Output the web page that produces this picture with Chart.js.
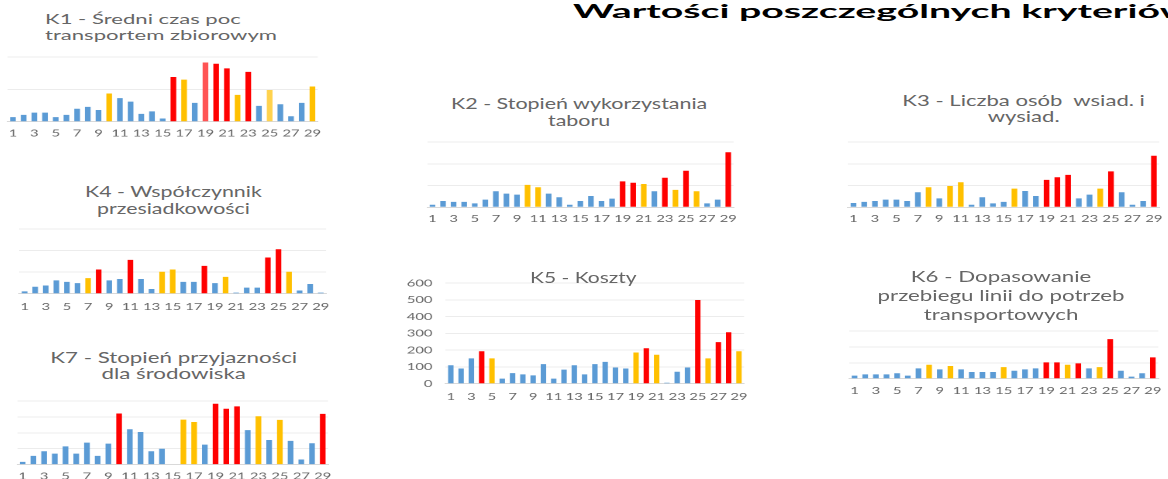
<!DOCTYPE html>
<html><head><meta charset="utf-8">
<script src="https://cdn.jsdelivr.net/npm/chart.js@4.4.1/dist/chart.umd.min.js"></script>
<style>
html,body{margin:0;padding:0;background:#fff;width:1168px;height:479px;overflow:hidden;position:relative;}
.wrap{position:absolute;transform-origin:0 0;}
.ttl{position:absolute;white-space:pre;transform-origin:0 0;}
canvas{display:block;}
</style></head><body>
<script>
// ---------- DATA ----------
const categories = ['1','2','3','4','5','6','7','8','9','10','11','12','13','14','15','16','17','18','19','20','21','22','23','24','25','26','27','28','29'];
const k5Ticks = ['0','100','200','300','400','500','600'];

const k1Values = [0.14,0.21,0.28,0.28,0.14,0.21,0.40,0.46,0.36,0.87,0.73,0.62,0.24,0.32,0.10,1.38,1.30,0.58,1.83,1.79,1.65,0.83,1.54,0.49,0.98,0.54,0.17,0.58,1.09];
const k1Class  = [0,0,0,0,0,0,0,0,0,1,0,0,0,0,0,2,1,0,3,2,2,1,2,0,4,0,0,0,1];

const k2Values = [0.12,0.29,0.25,0.25,0.18,0.35,0.74,0.63,0.58,1.03,0.92,0.63,0.46,0.12,0.29,0.52,0.29,0.40,1.19,1.13,1.07,0.74,1.36,0.80,1.68,0.74,0.18,0.35,2.53];
const k2Class  = [0,0,0,0,0,0,0,0,0,1,1,0,0,0,0,0,0,0,2,2,1,0,2,1,2,1,0,0,2];

const k3Values = [0.20,0.25,0.29,0.35,0.35,0.29,0.69,0.92,0.41,0.98,1.15,0.12,0.46,0.18,0.25,0.86,0.75,0.52,1.26,1.38,1.49,0.41,0.58,0.86,1.65,0.69,0.12,0.29,2.37];
const k3Class  = [0,0,0,0,0,0,0,1,0,1,1,0,0,0,0,1,0,0,2,2,2,0,0,1,2,0,0,0,2];

const k4Values = [0.11,0.32,0.38,0.62,0.55,0.49,0.72,1.12,0.62,0.68,1.57,0.68,0.22,1.02,1.12,0.55,0.55,1.29,0.49,0.78,0.05,0.28,0.28,1.68,2.06,1.02,0.15,0.45,0.05];
const k4Class  = [0,0,0,0,0,0,1,2,0,0,2,0,0,1,1,0,0,2,0,1,0,0,0,2,2,1,0,0,0];

const k5Values = [110,91,151,194,151,30,63,56,50,117,30,84,110,56,117,130,97,91,186,212,173,6,71,97,500,151,248,307,194];
const k5Class  = [0,0,0,2,1,0,0,0,0,0,0,0,0,0,0,0,0,0,1,2,1,0,0,0,2,1,2,2,1];

const k6Values = [0.19,0.27,0.27,0.27,0.34,0.19,0.65,0.88,0.59,0.80,0.59,0.42,0.42,0.42,0.73,0.50,0.59,0.65,1.03,1.03,0.88,0.96,0.65,0.73,2.49,0.50,0.13,0.34,1.34];
const k6Class  = [0,0,0,0,0,0,0,1,0,1,0,0,0,0,1,0,0,0,2,2,1,2,0,1,2,0,0,0,2];

const k7Values = [0.17,0.55,0.84,0.69,1.15,0.69,1.38,0.55,1.32,3.21,2.22,2.05,0.84,1.00,0.03,2.83,2.68,1.26,3.83,3.51,3.66,2.17,3.04,1.55,2.81,1.49,0.32,1.34,3.19];
const k7Class  = [0,0,0,0,0,0,0,0,0,2,0,0,0,0,0,1,1,0,2,2,2,0,1,0,1,0,0,0,2];

// ---------- RENDERING ----------
const S = 1.55; // horizontal stretch of the original slide
const palette = ['#5B9BD5','#FFC000','#FF0000','#FF5454','#FFD24D'];
const FONT = 'Lato, "Open Sans", sans-serif';
const TXT = '#666666';

function makeChart(o){
  const padL = 8, padR = 8, padT = 8;
  const hasY = o.yLabelRight != null;
  const yPad = hasY ? (o.areaL - o.yLabelRight) / S : 0;
  const yW = hasY ? yPad + 19 : 0;
  const areaWu = (o.areaR - o.areaL) / S;
  const W = Math.round(areaWu + yW + (padL + padR) / S);
  const xH = o.tickPad + 12.5;
  const H = Math.round(padT + (o.base - o.top) + xH + 3);
  const rightPad = W - yW - padL / S - areaWu;
  const bottomPad = H - padT - (o.base - o.top) - xH;

  const wrap = document.createElement('div');
  wrap.className = 'wrap';
  wrap.style.left = (o.areaL - yW * S - padL) + 'px';
  wrap.style.top = (o.top - padT) + 'px';
  wrap.style.transform = 'scaleX(' + S + ')';
  const cv = document.createElement('canvas');
  cv.width = W; cv.height = H;
  cv.style.width = W + 'px'; cv.style.height = H + 'px';
  wrap.appendChild(cv);
  document.body.appendChild(wrap);

  new Chart(cv, {
    type: 'bar',
    data: {
      labels: categories,
      datasets: [{
        data: o.values,
        backgroundColor: o.cls.map(c => palette[c]),
        borderWidth: 0,
        barPercentage: 0.53,
        categoryPercentage: 1.0
      }]
    },
    options: {
      responsive: false,
      animation: false,
      devicePixelRatio: 2,
      layout: { padding: { left: padL / S, right: rightPad, top: padT, bottom: bottomPad } },
      plugins: { legend: { display: false }, tooltip: { enabled: false }, title: { display: false } },
      scales: {
        x: {
          grid: { display: false, drawTicks: false },
          border: { display: true, color: '#d9d9d9', width: 1 },
          ticks: {
            autoSkip: false, maxRotation: 0, minRotation: 0,
            padding: o.tickPad, color: TXT,
            font: { family: FONT, size: 9.5 },
            callback: (v, i) => (i % 2 === 0 ? categories[i] : '')
          },
          afterFit: s => { s.height = xH; }
        },
        y: {
          min: 0, max: o.yMax,
          grid: { color: '#ececec', drawTicks: false, lineWidth: 1 },
          border: { display: false },
          ticks: {
            display: hasY, stepSize: o.step, padding: yPad,
            color: TXT, font: { family: FONT, size: 9.5 },
            callback: hasY ? (v => k5Ticks[Math.round(v / o.step)]) : undefined
          },
          afterFit: s => { s.width = yW; }
        }
      }
    }
  });
}

const mctx = document.createElement('canvas').getContext('2d');
function addTitle(t){
  const font = (t.weight || 400) + ' ' + t.size + 'px ' + FONT;
  mctx.font = font;
  const k = t.refWidth / mctx.measureText(t.refLine).width;
  const natW = Math.ceil(Math.max(...t.lines.map(l => mctx.measureText(l).width)) + 2);
  const d = document.createElement('div');
  d.className = 'ttl';
  d.style.font = font;
  d.style.lineHeight = t.gap + 'px';
  d.style.color = t.color || TXT;
  d.style.width = natW + 'px';
  d.style.textAlign = t.align || 'center';
  d.style.transform = 'scaleX(' + k + ')';
  d.style.left = (t.align === 'left' ? t.x : t.cx - natW * k / 2) + 'px';
  d.style.top = (t.y0 - t.gap / 2) + 'px';
  t.lines.forEach((l, i) => { if (i) d.appendChild(document.createElement('br')); d.appendChild(document.createTextNode(l)); });
  document.body.appendChild(d);
}

// charts
makeChart({values:k1Values, cls:k1Class, areaL:6.5,   areaR:322.5,  top:57,    base:121.7, yMax:2, step:1, tickPad:6.2});
makeChart({values:k2Values, cls:k2Class, areaL:427.3, areaR:738.7,  top:141.7, base:207,   yMax:3, step:1, tickPad:5.9});
makeChart({values:k3Values, cls:k3Class, areaL:847.9, areaR:1163.8, top:141.7, base:207,   yMax:3, step:1, tickPad:5.9});
makeChart({values:k4Values, cls:k4Class, areaL:17.2,  areaR:332.8,  top:229.3, base:294,   yMax:3, step:1, tickPad:7.3});
makeChart({values:k5Values, cls:k5Class, areaL:445.7, areaR:751.3,  top:276.6, base:383.3, yMax:600, step:100, tickPad:7.5, yLabelRight:432.5});
makeChart({values:k6Values, cls:k6Class, areaL:847.9, areaR:1163.8, top:331,   base:378.7, yMax:3, step:1, tickPad:6.6});
makeChart({values:k7Values, cls:k7Class, areaL:17.2,  areaR:332.8,  top:400.7, base:464.3, yMax:4, step:1, tickPad:6});

// titles
addTitle({lines:['Wartości poszczególnych kryteriów'], refLine:'Wartości poszczególnych kryterió', refWidth:587,
          align:'left', x:573, y0:11, gap:24, size:19, weight:700, color:'#000'});
addTitle({lines:['K1 - Średni czas poc','transportem zbiorowym'], refLine:'transportem zbiorowym', refWidth:232,
          align:'left', x:45, y0:18.7, gap:15.8, size:14});
addTitle({lines:['K2 - Stopień wykorzystania','taboru'], refLine:'K2 - Stopień wykorzystania', refWidth:256.7,
          cx:579, y0:103.7, gap:16.5, size:15});
addTitle({lines:['K3 - Liczba osób  wsiad. i','wysiad.'], refLine:'K3 - Liczba osób  wsiad. i', refWidth:243,
          cx:1023.5, y0:100, gap:16.8, size:15});
addTitle({lines:['K4 - Współczynnik','przesiadkowości'], refLine:'K4 - Współczynnik', refWidth:177,
          cx:173, y0:191.3, gap:16.7, size:15});
addTitle({lines:['K5 - Koszty'], refLine:'K5 - Koszty', refWidth:106.7,
          cx:583, y0:276.7, gap:18, size:15});
addTitle({lines:['K6 - Dopasowanie','przebiegu linii do potrzeb','transportowych'], refLine:'przebiegu linii do potrzeb', refWidth:247,
          cx:1001.5, y0:276.7, gap:18.8, size:15.5});
addTitle({lines:['K7 - Stopień przyjazności','dla środowiska'], refLine:'K7 - Stopień przyjazności', refWidth:247,
          cx:173.5, y0:357, gap:16.5, size:15});
</script>
</body></html>
